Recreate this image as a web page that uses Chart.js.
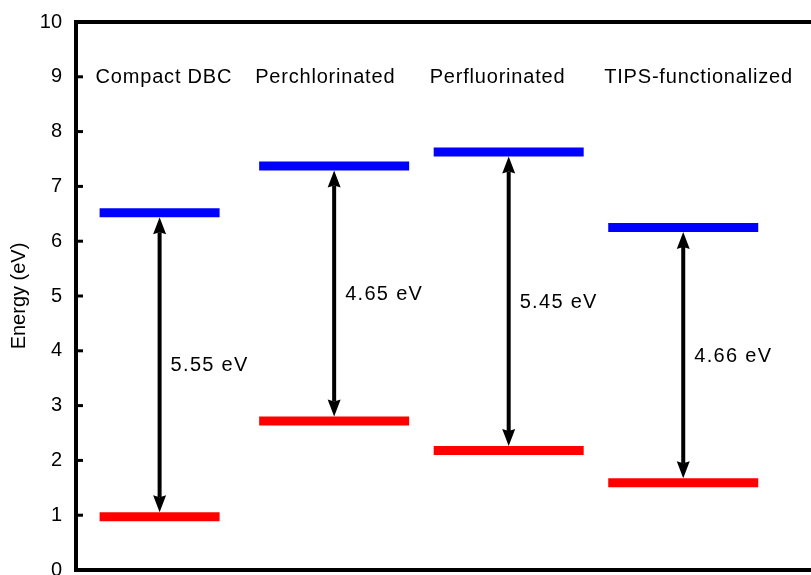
<!DOCTYPE html>
<html>
<head>
<meta charset="utf-8">
<script src="https://cdn.jsdelivr.net/npm/chart.js@4/dist/chart.umd.min.js"></script>
<style>
  html, body { margin: 0; padding: 0; overflow: hidden; background: #fff; }
  #view { width: 811px; height: 575px; position: relative; overflow: hidden; }
  #wrap { position: absolute; left: 0; top: 0; width: 900px; height: 720px; }
</style>
</head>
<body>
<div id="view"><div id="wrap"><canvas id="levels"></canvas></div></div>
<script>
const categories = ["Compact DBC", "Perchlorinated", "Perfluorinated", "TIPS-functionalized"];
const lumo = [6.52, 7.37, 7.63, 6.25];
const homo = [0.97, 2.72, 2.18, 1.59];
const gaps = [5.55, 4.65, 5.45, 4.66];
const yTicks = [0, 1, 2, 3, 4, 5, 6, 7, 8, 9, 10];

const FONT = "'Liberation Sans', Arial, Helvetica, sans-serif";
const halfWidths = [60, 75, 75, 75];

// wanted plot box on the page
const AREA = { left: 76, top: 22, width: 735, height: 548 };

// frame, inward ticks, arrows and text
const annotate = {
    id: "annotate",
    beforeDatasetsDraw(chart) {
        const { ctx, chartArea: a, scales: { y } } = chart;
        ctx.save();
        ctx.strokeStyle = "#000";
        ctx.lineWidth = 4;
        ctx.beginPath();
        ctx.moveTo(a.right + 2, a.top);
        ctx.lineTo(a.left, a.top);
        ctx.lineTo(a.left, a.bottom);
        ctx.lineTo(a.right + 2, a.bottom);
        ctx.stroke();
        ctx.lineWidth = 3;
        yTicks.forEach((t) => {
            const py = y.getPixelForValue(t);
            ctx.beginPath();
            ctx.moveTo(a.left, py);
            ctx.lineTo(a.left + 7, py);
            ctx.stroke();
        });
        ctx.restore();
    },
    afterDatasetsDraw(chart) {
        const { ctx, scales: { x, y } } = chart;
        ctx.save();
        ctx.fillStyle = "#000";
        ctx.strokeStyle = "#000";
        categories.forEach((name, i) => {
            const px = x.getPixelForValue(i);
            const top = y.getPixelForValue(lumo[i]) + 4.5;
            const bot = y.getPixelForValue(homo[i]) - 4.5;
            const head = 17, hw = 6.5;
            ctx.lineWidth = 4;
            ctx.beginPath();
            ctx.moveTo(px, top + head - 2);
            ctx.lineTo(px, bot - head + 2);
            ctx.stroke();
            ctx.beginPath();
            ctx.moveTo(px, top);
            ctx.lineTo(px - hw, top + head);
            ctx.lineTo(px, top + head - 2);
            ctx.lineTo(px + hw, top + head);
            ctx.closePath();
            ctx.fill();
            ctx.beginPath();
            ctx.moveTo(px, bot);
            ctx.lineTo(px - hw, bot - head);
            ctx.lineTo(px, bot - head + 2);
            ctx.lineTo(px + hw, bot - head);
            ctx.closePath();
            ctx.fill();

            ctx.font = "20px " + FONT;
            ctx.textAlign = "left";
            ctx.textBaseline = "middle";
            ctx.letterSpacing = "1.3px";
            const mid = y.getPixelForValue((lumo[i] + homo[i]) / 2);
            ctx.fillText(gaps[i].toFixed(2) + " eV", px + 11, mid + 1);

            ctx.letterSpacing = "0.8px";
            ctx.fillText(name, px - halfWidths[i] - 4, y.getPixelForValue(9) + 1);
        });
        ctx.restore();
    },
};

const idx = categories.map((c, i) => i);

const chart = new Chart(document.getElementById("levels"), {
    type: "scatter",
    data: {
        datasets: [
            {
                label: "LUMO",
                data: idx.map((i) => ({ x: i, y: lumo[i] })),
                pointStyle: "line",
                pointRadius: halfWidths,
                pointBorderWidth: 9,
                borderColor: "#0000ff",
                backgroundColor: "#0000ff",
            },
            {
                label: "HOMO",
                data: idx.map((i) => ({ x: i, y: homo[i] })),
                pointStyle: "line",
                pointRadius: halfWidths,
                pointBorderWidth: 9,
                borderColor: "#ff0000",
                backgroundColor: "#ff0000",
            },
        ],
    },
    options: {
        responsive: false,
        maintainAspectRatio: false,
        animation: false,
        events: [],
        layout: { padding: 0 },
        plugins: {
            legend: { display: false },
            tooltip: { enabled: false },
        },
        scales: {
            x: {
                type: "linear",
                display: false,
                min: -0.479,
                max: 3.732,
            },
            y: {
                min: 0,
                max: 10,
                afterFit: (s) => { s.width = 76; },
                afterBuildTicks: (s) => { s.ticks = yTicks.map((v) => ({ value: v })); },
                grid: { display: false, drawTicks: false },
                border: { display: false },
                ticks: {
                    padding: 14,
                    color: "#000",
                    font: { family: FONT, size: 20 },
                },
                title: {
                    display: true,
                    text: "Energy (eV)",
                    color: "#000",
                    font: { family: FONT, size: 20 },
                    padding: { top: 7, bottom: 0 },
                },
            },
        },
    },
    plugins: [annotate],
});

// the wide level markers make Chart.js reserve extra room around the plot;
// size the canvas so the plot box has the wanted size, then shift it into place
const wrap = document.getElementById("wrap");
let w = 900, h = 720;
for (let k = 0; k < 3; k++) {
    const a = chart.chartArea;
    w += AREA.width - (a.right - a.left);
    h += AREA.height - (a.bottom - a.top);
    wrap.style.width = w + "px";
    wrap.style.height = h + "px";
    chart.resize(w, h);
}
const a = chart.chartArea;
wrap.style.left = (AREA.left - a.left) + "px";
wrap.style.top = (AREA.top - a.top) + "px";
</script>
</body>
</html>
